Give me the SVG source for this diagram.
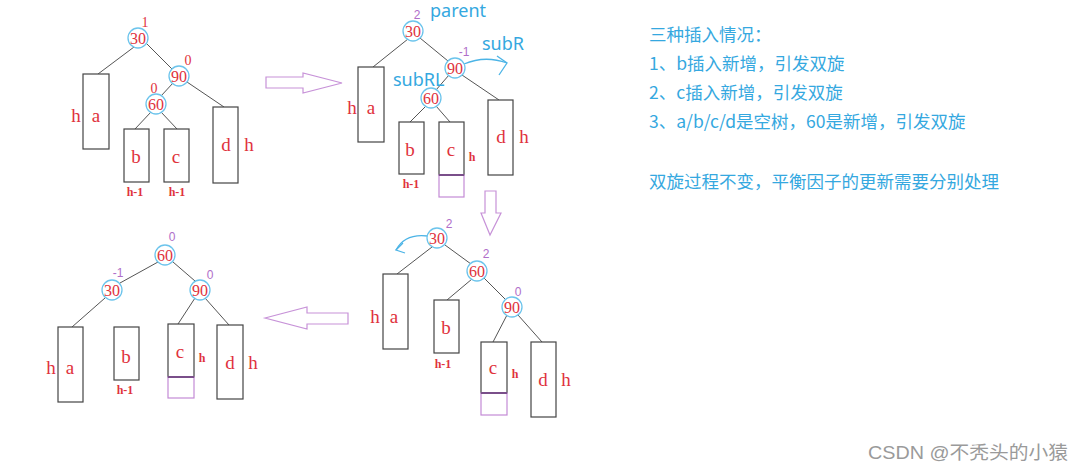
<svg xmlns="http://www.w3.org/2000/svg" width="1075" height="471" viewBox="0 0 1075 471">
<style>
.c{fill:#fff;stroke:#6cc4ec;stroke-width:1.3}
.n{font-family:"Liberation Serif",serif;font-size:16px;fill:#e0323c;text-anchor:middle}
.l{font-family:"Liberation Serif",serif;font-size:19px;fill:#e0323c;text-anchor:middle}
.s{font-family:"Liberation Serif",serif;font-size:12px;font-weight:bold;fill:#e0323c;text-anchor:middle}
.sh{font-family:"Liberation Serif",serif;font-size:12px;font-weight:bold;fill:#e0323c;text-anchor:middle}
.bf{font-family:"Liberation Sans",sans-serif;font-size:12px;fill:#b06ec9;text-anchor:middle}
.bfr{font-family:"Liberation Serif",serif;font-size:14px;fill:#e0323c;text-anchor:middle}
.r{fill:#fff;stroke:#444;stroke-width:1.2}
.pr{fill:none;stroke:#c48ad6;stroke-width:1.2}
.pl{stroke:#7a4f8a;stroke-width:2}
.e{stroke:#555;stroke-width:1;fill:none}
.ar{fill:#fff;stroke:#c792d8;stroke-width:1.2}
.cy{font-family:"Noto Sans","Noto Sans CJK SC",sans-serif;font-size:18px;fill:#35a8e0}
.cyl{fill:none;stroke:#4cb4e6;stroke-width:1.3}
.t{font-family:"Noto Sans CJK SC",sans-serif;font-size:17.5px;fill:#35a8e0}
.w{font-family:"Liberation Sans","Noto Sans CJK SC",sans-serif;font-size:18.5px;fill:#9a9a9a}
</style>
<rect width="1075" height="471" fill="#fff"/>

<!-- Tree 1 -->
<g id="edges1">
<line class="e" x1="134" y1="47" x2="98" y2="74"/>
<line class="e" x1="146" y1="43" x2="172" y2="69"/>
<line class="e" x1="173" y1="83" x2="161" y2="96"/>
<line class="e" x1="187" y1="82" x2="224" y2="107"/>
<line class="e" x1="151" y1="112" x2="135" y2="129"/>
<line class="e" x1="161" y1="112" x2="177" y2="129"/>
</g>
<g id="t1-n30"><circle class="c" cx="138" cy="38" r="10"/><text class="n" x="138" y="44">30</text><text class="bfr" x="145" y="27">1</text></g>
<g id="t1-n90"><circle class="c" cx="179" cy="76" r="10"/><text class="n" x="179" y="82">90</text><text class="bfr" x="188" y="65">0</text></g>
<g id="t1-n60"><circle class="c" cx="156" cy="104" r="10"/><text class="n" x="156" y="110">60</text><text class="bfr" x="154" y="93">0</text></g>
<g id="t1-a"><rect class="r" x="83" y="74" width="26" height="75"/><text class="l" x="76" y="122">h</text><text class="l" x="96" y="122">a</text></g>
<g id="t1-b"><rect class="r" x="124" y="129" width="25" height="53"/><text class="l" x="136" y="163">b</text><text class="s" x="135" y="196">h-1</text></g>
<g id="t1-c"><rect class="r" x="164" y="129" width="25" height="53"/><text class="l" x="176" y="163">c</text><text class="s" x="177" y="196">h-1</text></g>
<g id="t1-d"><rect class="r" x="213" y="107" width="25" height="76"/><text class="l" x="226" y="151">d</text><text class="l" x="249" y="151">h</text></g>

<!-- Tree 2 -->
<g id="edges2">
<line class="e" x1="408" y1="39" x2="373" y2="67"/>
<line class="e" x1="420" y1="38" x2="448" y2="61"/>
<line class="e" x1="449" y1="75" x2="436" y2="90"/>
<line class="e" x1="462" y1="75" x2="499" y2="100"/>
<line class="e" x1="426" y1="106" x2="410" y2="122"/>
<line class="e" x1="436" y1="106" x2="450" y2="122"/>
<path class="cyl" d="M464,64 Q485,55 507,63"/>
<path class="cyl" d="M497,56 L507,63 L499,75"/>
</g>
<g id="t2-n30"><circle class="c" cx="413" cy="31" r="10"/><text class="n" x="413" y="37">30</text><text class="bf" x="417" y="19">2</text><text class="cy" x="430" y="17">parent</text></g>
<g id="t2-n90"><circle class="c" cx="455" cy="68" r="10"/><text class="n" x="455" y="74">90</text><text class="bf" x="464" y="56">-1</text><text class="cy" x="482" y="50">subR</text></g>
<g id="t2-n60"><circle class="c" cx="431" cy="98" r="10"/><text class="n" x="431" y="104">60</text><text class="cy" x="393" y="86">subRL</text></g>
<g id="t2-a"><rect class="r" x="358" y="67" width="26" height="75"/><text class="l" x="352" y="114">h</text><text class="l" x="371" y="114">a</text></g>
<g id="t2-b"><rect class="r" x="399" y="122" width="25" height="52"/><text class="l" x="410" y="156">b</text><text class="s" x="411" y="188">h-1</text></g>
<g id="t2-c"><rect class="r" x="439" y="122" width="25" height="53"/><rect class="pr" x="439" y="175" width="25" height="22"/><line class="pl" x1="439" y1="175" x2="464" y2="175"/><text class="l" x="451" y="156">c</text><text class="sh" x="472" y="161">h</text></g>
<g id="t2-d"><rect class="r" x="488" y="100" width="25" height="75"/><text class="l" x="501" y="143">d</text><text class="l" x="524" y="143">h</text></g>

<!-- Tree 3 -->
<g id="edges3">
<line class="e" x1="432" y1="247" x2="397" y2="274"/>
<line class="e" x1="445" y1="245" x2="471" y2="264"/>
<line class="e" x1="472" y1="279" x2="447" y2="300"/>
<line class="e" x1="484" y1="278" x2="506" y2="300"/>
<line class="e" x1="507" y1="315" x2="493" y2="342"/>
<line class="e" x1="518" y1="315" x2="542" y2="342"/>
<path class="cyl" d="M428,236 Q405,233 396,250"/>
<path class="cyl" d="M403,243 L396,250 L405,253"/>
</g>
<g id="t3-n30"><circle class="c" cx="437" cy="238" r="10"/><text class="n" x="437" y="244">30</text><text class="bf" x="449" y="228">2</text></g>
<g id="t3-n60"><circle class="c" cx="477" cy="271" r="10"/><text class="n" x="477" y="277">60</text><text class="bf" x="486" y="258">2</text></g>
<g id="t3-n90"><circle class="c" cx="512" cy="307" r="10"/><text class="n" x="512" y="313">90</text><text class="bf" x="518" y="296">0</text></g>
<g id="t3-a"><rect class="r" x="383" y="274" width="25" height="75"/><text class="l" x="375" y="323">h</text><text class="l" x="394" y="323">a</text></g>
<g id="t3-b"><rect class="r" x="434" y="300" width="25" height="53"/><text class="l" x="446" y="334">b</text><text class="s" x="443" y="368">h-1</text></g>
<g id="t3-c"><rect class="r" x="481" y="342" width="26" height="51"/><rect class="pr" x="481" y="393" width="26" height="22"/><line class="pl" x1="481" y1="393" x2="507" y2="393"/><text class="l" x="493" y="374">c</text><text class="sh" x="515" y="378">h</text></g>
<g id="t3-d"><rect class="r" x="531" y="342" width="25" height="75"/><text class="l" x="543" y="386">d</text><text class="l" x="566" y="386">h</text></g>

<!-- Tree 4 -->
<g id="edges4">
<line class="e" x1="158" y1="262" x2="120" y2="283"/>
<line class="e" x1="173" y1="262" x2="195" y2="281"/>
<line class="e" x1="105" y1="298" x2="72" y2="327"/>
<line class="e" x1="195" y1="298" x2="178" y2="324"/>
<line class="e" x1="205" y1="298" x2="229" y2="325"/>
</g>
<g id="t4-n60"><circle class="c" cx="165" cy="255" r="10"/><text class="n" x="165" y="261">60</text><text class="bf" x="172" y="241">0</text></g>
<g id="t4-n30"><circle class="c" cx="112" cy="290" r="10"/><text class="n" x="112" y="296">30</text><text class="bf" x="118" y="277">-1</text></g>
<g id="t4-n90"><circle class="c" cx="200" cy="290" r="10"/><text class="n" x="200" y="296">90</text><text class="bf" x="210" y="279">0</text></g>
<g id="t4-a"><rect class="r" x="58" y="327" width="25" height="75"/><text class="l" x="51" y="374">h</text><text class="l" x="70" y="374">a</text></g>
<g id="t4-b"><rect class="r" x="114" y="327" width="25" height="53"/><text class="l" x="126" y="363">b</text><text class="s" x="125" y="394">h-1</text></g>
<g id="t4-c"><rect class="r" x="168" y="324" width="26" height="53"/><rect class="pr" x="168" y="377" width="26" height="21"/><line class="pl" x1="168" y1="377" x2="194" y2="377"/><text class="l" x="180" y="358">c</text><text class="sh" x="202" y="362">h</text></g>
<g id="t4-d"><rect class="r" x="217" y="325" width="26" height="74"/><text class="l" x="230" y="369">d</text><text class="l" x="253" y="369">h</text></g>

<!-- Big arrows -->
<g id="arrows">
<polygon class="ar" points="266,77 303,77 303,73 342,83 303,93 303,88 266,88"/>
<polygon class="ar" points="485,191 496,191 496,213 501,213 490,235 481,213 485,213"/>
<polygon class="ar" points="265,318 307,307 307,313 348,313 348,324 307,324 307,329"/>
</g>

<!-- Notes -->
<g id="notes">
<text class="t" x="649" y="41">三种插入情况：</text>
<text class="t" x="649" y="70">1、b插入新增，引发双旋</text>
<text class="t" x="649" y="99">2、c插入新增，引发双旋</text>
<text class="t" x="649" y="128">3、a/b/c/d是空树，60是新增，引发双旋</text>
<text class="t" x="649" y="188">双旋过程不变，平衡因子的更新需要分别处理</text>
</g>
<text class="w" x="868" y="459" textLength="200" lengthAdjust="spacingAndGlyphs">CSDN @不秃头的小猿</text>
</svg>
